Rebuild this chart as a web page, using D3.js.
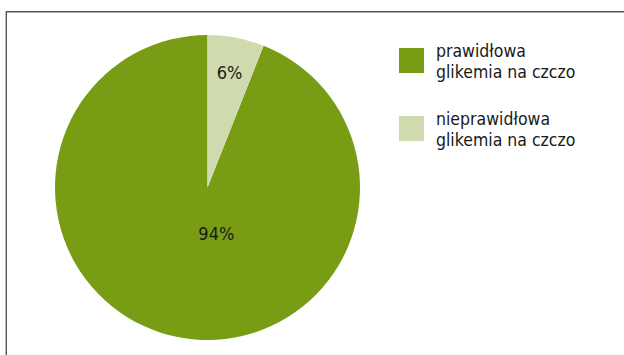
<!DOCTYPE html>
<html>
<head>
<meta charset="utf-8">
<script src="https://cdn.jsdelivr.net/npm/d3@7"></script>
<style>
  html, body { margin: 0; padding: 0; background: #fff; }
  svg { display: block; }
  text { font-family: "DejaVu Sans Condensed", "DejaVu Sans", sans-serif; font-stretch: condensed; fill: #1a1a1a; }
</style>
</head>
<body>
<script>
// Fasting glycaemia share
const categories = ["prawidłowa glikemia na czczo", "nieprawidłowa glikemia na czczo"];
const legendLines = [["prawidłowa", "glikemia na czczo"], ["nieprawidłowa", "glikemia na czczo"]];
const values = [94, 6];
const valueLabels = ["94%", "6%"];
const colors = ["#789d14", "#cfdaaf"];

const W = 624, H = 355;
const cx = 207.5, cy = 187.5, R = 152.5;
// label placement: radius fraction and angular shift (deg) per slice
const labelRadius = [0.31, 0.77];
const labelShift = [-21.6, 0];

const svg = d3.select("body").append("svg").attr("width", W).attr("height", H);

// frame
svg.append("line").attr("x1", 6).attr("x2", W).attr("y1", 11.8).attr("y2", 11.8)
  .attr("stroke", "#555").attr("stroke-width", 1.4);
svg.append("line").attr("x1", 6.3).attr("x2", 6.3).attr("y1", 11.8).attr("y2", H)
  .attr("stroke", "#555").attr("stroke-width", 1.4);

const total = d3.sum(values);
const smallShare = values[1] / total;
const pie = d3.pie().sort(null)
  .startAngle(2 * Math.PI * smallShare)
  .endAngle(2 * Math.PI * (1 + smallShare));
const arcs = pie(values);
const arc = d3.arc().innerRadius(0).outerRadius(R);

const g = svg.append("g").attr("transform", `translate(${cx},${cy})`);
g.selectAll("path").data(arcs).enter().append("path")
  .attr("d", arc).attr("fill", (d, i) => colors[i]);

g.selectAll("text.val").data(arcs).enter().append("text")
  .attr("class", "val")
  .attr("text-anchor", "middle")
  .attr("dominant-baseline", "central")
  .attr("font-size", 18)
  .attr("transform", (d, i) => {
    const a = (d.startAngle + d.endAngle) / 2 + labelShift[i] * Math.PI / 180;
    const r = R * labelRadius[i];
    return `translate(${r * Math.sin(a)},${-r * Math.cos(a)})`;
  })
  .text((d, i) => valueLabels[i]);

// legend
const lg = svg.append("g").attr("transform", "translate(399,48)");
const item = lg.selectAll("g").data(categories).enter().append("g")
  .attr("transform", (d, i) => `translate(0,${i * 68})`);
item.append("rect").attr("width", 25).attr("height", 25).attr("fill", (d, i) => colors[i]);
item.append("text").attr("x", 37).attr("y", 8.5).attr("font-size", 17.5)
  .selectAll("tspan").data((d, i) => legendLines[i]).enter().append("tspan")
  .attr("x", 37).attr("dy", (d, j) => j === 0 ? 0 : 21).text(d => d);
</script>
</body>
</html>
